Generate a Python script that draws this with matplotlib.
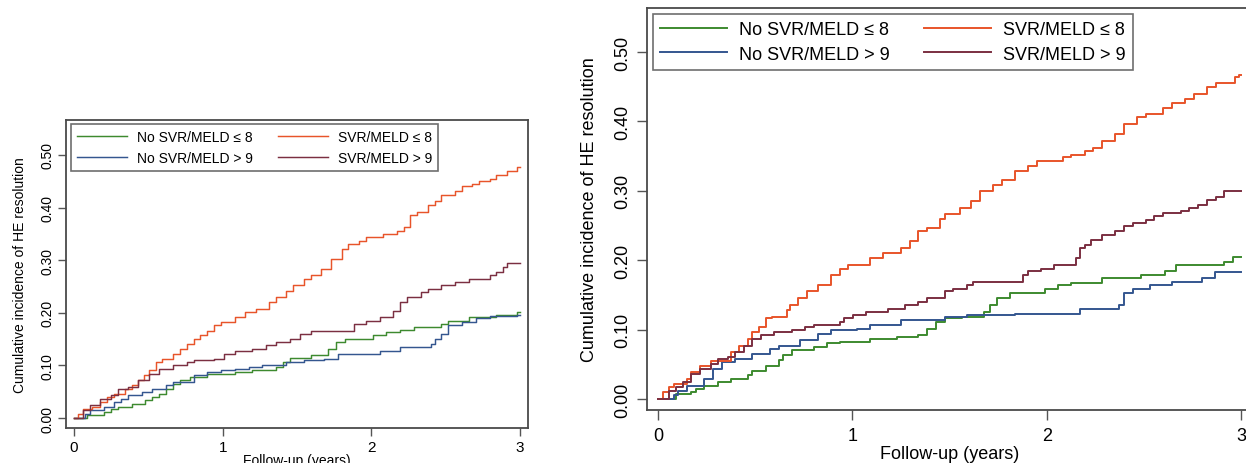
import numpy as np
import matplotlib.pyplot as plt

plt.rcParams['font.family'] = ['Liberation Sans', 'DejaVu Sans']

labels = ['No SVR/MELD \u2264 8', 'No SVR/MELD > 9', 'SVR/MELD \u2264 8', 'SVR/MELD > 9']
colors = ['#3d8a2f', '#34568f', '#e8542a', '#7b2f41']

# ---- left panel: step times (years) and cumulative incidence after each step
l_green_t = [0.086, 0.202, 0.248, 0.294, 0.387, 0.48, 0.526, 0.572, 0.618, 0.665, 0.711, 0.781, 0.896,
             1.082, 1.198, 1.36, 1.406, 1.452, 1.591, 1.707, 1.765, 1.823, 2.008, 2.101, 2.194, 2.286,
             2.472, 2.518, 2.657, 2.842, 2.981]
l_green_v = [0.006, 0.011, 0.018, 0.021, 0.027, 0.034, 0.04, 0.046, 0.056, 0.065, 0.072, 0.078, 0.084,
             0.087, 0.091, 0.097, 0.106, 0.114, 0.119, 0.132, 0.144, 0.151, 0.157, 0.163, 0.168, 0.173,
             0.179, 0.185, 0.192, 0.196, 0.201]
l_blue_t = [0.074, 0.109, 0.202, 0.271, 0.317, 0.364, 0.456, 0.526, 0.618, 0.665, 0.804, 0.896, 0.989,
            1.082, 1.174, 1.267, 1.429, 1.545, 1.684, 1.777, 2.055, 2.194, 2.402, 2.425, 2.472, 2.518,
            2.611, 2.703, 2.796, 2.981]
l_blue_v = [0.008, 0.015, 0.021, 0.03, 0.037, 0.043, 0.049, 0.056, 0.062, 0.068, 0.081, 0.087, 0.091,
            0.094, 0.097, 0.1, 0.106, 0.11, 0.113, 0.122, 0.128, 0.135, 0.141, 0.151, 0.16, 0.176,
            0.182, 0.19, 0.194, 0.196]
l_orange_t = [0.028, 0.063, 0.12, 0.178, 0.225, 0.271, 0.341, 0.387, 0.433, 0.468, 0.503, 0.549, 0.595,
              0.665, 0.711, 0.757, 0.804, 0.85, 0.896, 0.943, 0.989, 1.082, 1.151, 1.221, 1.313, 1.36,
              1.429, 1.476, 1.545, 1.591, 1.661, 1.73, 1.8, 1.846, 1.916, 1.962, 2.078, 2.171, 2.217,
              2.263, 2.309, 2.379, 2.425, 2.472, 2.564, 2.611, 2.68, 2.726, 2.796, 2.842, 2.912, 2.981]
l_orange_v = [0.008, 0.018, 0.021, 0.03, 0.04, 0.046, 0.056, 0.062, 0.072, 0.081, 0.091, 0.106, 0.113,
              0.122, 0.132, 0.141, 0.151, 0.157, 0.166, 0.176, 0.182, 0.192, 0.201, 0.208, 0.22, 0.23,
              0.242, 0.252, 0.265, 0.271, 0.284, 0.303, 0.322, 0.331, 0.337, 0.344, 0.35, 0.356, 0.363,
              0.385, 0.391, 0.404, 0.413, 0.424, 0.432, 0.441, 0.445, 0.451, 0.454, 0.461, 0.47, 0.478]
l_maroon_t = [0.063, 0.109, 0.178, 0.248, 0.294, 0.364, 0.433, 0.503, 0.572, 0.665, 0.757, 0.804, 0.943,
              1.012, 1.082, 1.198, 1.29, 1.36, 1.452, 1.522, 1.591, 1.881, 1.962, 2.055, 2.147, 2.194,
              2.24, 2.333, 2.379, 2.472, 2.564, 2.657, 2.796, 2.842, 2.889, 2.912]
l_maroon_v = [0.015, 0.024, 0.037, 0.043, 0.056, 0.059, 0.072, 0.084, 0.094, 0.1, 0.106, 0.11, 0.113,
              0.122, 0.128, 0.132, 0.138, 0.144, 0.151, 0.16, 0.166, 0.179, 0.185, 0.192, 0.204, 0.22,
              0.23, 0.239, 0.246, 0.252, 0.258, 0.265, 0.271, 0.277, 0.287, 0.295]

# ---- right panel
r_green_t = [0.092, 0.171, 0.193, 0.238, 0.306, 0.373, 0.463, 0.486, 0.553, 0.621, 0.643, 0.688, 0.8,
             0.868, 0.935, 1.093, 1.228, 1.34, 1.385, 1.43, 1.475, 1.565, 1.678, 1.711, 1.745, 1.812,
             1.992, 2.06, 2.127, 2.285, 2.487, 2.611, 2.667, 2.914, 2.959]
r_green_v = [0.007, 0.01, 0.014, 0.019, 0.024, 0.029, 0.034, 0.041, 0.048, 0.056, 0.063, 0.07, 0.075,
             0.08, 0.082, 0.087, 0.089, 0.092, 0.101, 0.111, 0.116, 0.118, 0.126, 0.135, 0.145, 0.152,
             0.159, 0.164, 0.167, 0.174, 0.179, 0.184, 0.193, 0.198, 0.205]
r_blue_t = [0.081, 0.103, 0.148, 0.238, 0.283, 0.328, 0.396, 0.486, 0.576, 0.621, 0.733, 0.823, 0.89,
            1.025, 1.093, 1.25, 1.475, 1.588, 1.835, 2.172, 2.375, 2.397, 2.442, 2.532, 2.645, 2.802, 2.869]
r_blue_v = [0.005, 0.012, 0.019, 0.029, 0.043, 0.053, 0.058, 0.065, 0.072, 0.077, 0.085, 0.094, 0.099,
            0.101, 0.106, 0.114, 0.118, 0.121, 0.123, 0.13, 0.135, 0.152, 0.159, 0.164, 0.169, 0.174, 0.183]
r_orange_t = [0.025, 0.058, 0.081, 0.148, 0.171, 0.216, 0.27, 0.373, 0.418, 0.463, 0.486, 0.519, 0.553,
              0.587, 0.666, 0.677, 0.722, 0.767, 0.823, 0.89, 0.935, 0.98, 1.093, 1.16, 1.25, 1.295,
              1.34, 1.385, 1.453, 1.475, 1.554, 1.61, 1.655, 1.723, 1.768, 1.835, 1.903, 1.948, 2.082,
              2.127, 2.195, 2.24, 2.285, 2.352, 2.397, 2.465, 2.51, 2.6, 2.645, 2.712, 2.757, 2.825,
              2.87, 2.97, 2.99]
r_orange_v = [0.01, 0.017, 0.022, 0.029, 0.039, 0.048, 0.055, 0.068, 0.077, 0.087, 0.097, 0.104, 0.116,
              0.118, 0.128, 0.135, 0.145, 0.155, 0.164, 0.179, 0.188, 0.193, 0.203, 0.21, 0.217, 0.227,
              0.242, 0.246, 0.26, 0.266, 0.275, 0.285, 0.3, 0.309, 0.316, 0.328, 0.336, 0.343, 0.348,
              0.352, 0.357, 0.362, 0.372, 0.382, 0.396, 0.406, 0.411, 0.42, 0.426, 0.432, 0.44, 0.449,
              0.455, 0.464, 0.467]
r_maroon_t = [0.058, 0.092, 0.126, 0.171, 0.216, 0.272, 0.306, 0.362, 0.396, 0.441, 0.486, 0.531, 0.598,
              0.688, 0.756, 0.8, 0.935, 0.958, 1.003, 1.07, 1.183, 1.273, 1.34, 1.385, 1.475, 1.52,
              1.588, 1.621, 1.88, 1.902, 1.97, 2.037, 2.15, 2.172, 2.195, 2.228, 2.285, 2.352, 2.397,
              2.442, 2.51, 2.555, 2.6, 2.689, 2.734, 2.779, 2.825, 2.87, 2.914]
r_maroon_v = [0.012, 0.017, 0.024, 0.036, 0.043, 0.051, 0.058, 0.06, 0.068, 0.077, 0.087, 0.092, 0.097,
              0.099, 0.104, 0.107, 0.111, 0.116, 0.121, 0.126, 0.13, 0.135, 0.14, 0.145, 0.155, 0.159,
              0.164, 0.169, 0.179, 0.184, 0.188, 0.193, 0.203, 0.217, 0.222, 0.229, 0.237, 0.242, 0.249,
              0.254, 0.258, 0.263, 0.268, 0.271, 0.275, 0.28, 0.287, 0.291, 0.3]

yticks = [0.0, 0.1, 0.2, 0.3, 0.4, 0.5]
ytick_labels = ['0.00', '0.10', '0.20', '0.30', '0.40', '0.50']
xticks = [0, 1, 2, 3]
t_end = 3.0

W, H = 1246, 464
fig = plt.figure(figsize=(W / 100, H / 100), dpi=100)


def px_axes(x0, x1, y_top, y_bot):
    return fig.add_axes([x0 / W, (H - y_bot) / H, (x1 - x0) / W, (y_bot - y_top) / H])


def draw_panel(ax, series, fs, xfs, lw, xlim, ylim, tick_len, ypad, xpad, ylab_pad, xlab_pad, leg_kw):
    for (t, v), c, lab in zip(series, colors, labels):
        tt = np.r_[0.0, t, t_end]
        vv = np.r_[0.0, v, v[-1]]
        ax.step(tt, vv, where='post', color=c, lw=lw, label=lab)
    ax.set_xlim(*xlim)
    ax.set_ylim(*ylim)
    ax.set_xticks(xticks)
    ax.set_yticks(yticks)
    ax.set_yticklabels(ytick_labels, rotation=90, va='center')
    ax.tick_params(axis='both', colors='#555555', labelcolor='black', length=tick_len, width=1.0)
    ax.tick_params(axis='y', pad=ypad, labelsize=fs)
    ax.tick_params(axis='x', pad=xpad, labelsize=xfs)
    for s in ax.spines.values():
        s.set_color('#4a4a4a')
        s.set_linewidth(1.3)
    ax.set_ylabel('Cumulative incidence of HE resolution', fontsize=fs, labelpad=ylab_pad)
    ax.set_xlabel('Follow-up (years)', fontsize=fs, labelpad=xlab_pad)
    leg = ax.legend(ncol=2, loc='upper left', frameon=True, fancybox=False,
                    borderaxespad=0, **leg_kw)
    leg.get_frame().set_edgecolor('#4a4a4a')
    leg.get_frame().set_linewidth(1.2)


ax_l = px_axes(66, 528, 121, 429)
draw_panel(ax_l,
           [(l_green_t, l_green_v), (l_blue_t, l_blue_v), (l_orange_t, l_orange_v), (l_maroon_t, l_maroon_v)],
           fs=10, xfs=11, lw=1.05, xlim=(-0.054, 3.054), ylim=(-0.019, 0.5665),
           tick_len=6, ypad=2, xpad=3, ylab_pad=10, xlab_pad=-1,
           leg_kw=dict(bbox_to_anchor=(0.011, 0.987), fontsize=10, handlelength=3.6,
                       handletextpad=0.7, columnspacing=1.8, labelspacing=0.46, borderpad=0.45))

ax_r = px_axes(647, 1252, 9, 411)
draw_panel(ax_r,
           [(r_green_t, r_green_v), (r_blue_t, r_blue_v), (r_orange_t, r_orange_v), (r_maroon_t, r_maroon_v)],
           fs=13, xfs=13, lw=1.4, xlim=(-0.057, 3.057), ylim=(-0.0159, 0.5634),
           tick_len=7, ypad=4, xpad=5, ylab_pad=12, xlab_pad=1,
           leg_kw=dict(bbox_to_anchor=(0.01, 0.985), fontsize=13, handlelength=3.7,
                       handletextpad=0.67, columnspacing=1.9, labelspacing=0.41, borderpad=0.4))

fig.savefig('out.png', dpi=100)
